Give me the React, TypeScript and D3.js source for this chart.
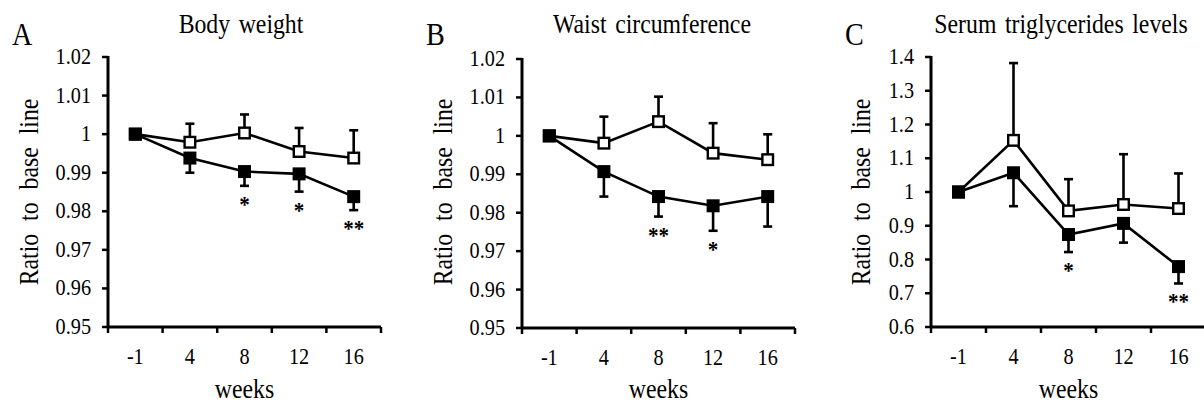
import React from "react";
import * as d3 from "d3";

// weeks from baseline
const weeks = ["-1", "4", "8", "12", "16"];

// A: body weight (ratio to base line)
const bodyWeightOpen = [1.0, 0.9979, 1.0003, 0.9955, 0.9938];
const bodyWeightOpenErr = [0, 0.0048, 0.0048, 0.0061, 0.0072];
const bodyWeightFilled = [1.0, 0.9938, 0.9903, 0.9897, 0.9838];
const bodyWeightFilledErr = [0, 0.0038, 0.0037, 0.0046, 0.0035];
const bodyWeightStars = ["", "", "*", "*", "**"];
const bodyWeightTicks = [0.95, 0.96, 0.97, 0.98, 0.99, 1, 1.01, 1.02];

// B: waist circumference
const waistOpen = [1.0, 0.9981, 1.0037, 0.9955, 0.9938];
const waistOpenErr = [0, 0.0069, 0.0065, 0.0078, 0.0066];
const waistFilled = [1.0, 0.9907, 0.9842, 0.9818, 0.9842];
const waistFilledErr = [0, 0.0065, 0.0052, 0.0065, 0.0078];
const waistStars = ["", "", "**", "*", ""];
const waistTicks = [0.95, 0.96, 0.97, 0.98, 0.99, 1, 1.01, 1.02];

// C: serum triglycerides
const tgOpen = [1.0, 1.153, 0.944, 0.963, 0.951];
const tgOpenErr = [0, 0.229, 0.094, 0.149, 0.104];
const tgFilled = [1.0, 1.057, 0.874, 0.907, 0.779];
const tgFilledErr = [0, 0.099, 0.052, 0.057, 0.05];
const tgStars = ["", "", "*", "", "**"];
const tgTicks = [0.6, 0.7, 0.8, 0.9, 1, 1.1, 1.2, 1.3, 1.4];

const FONT = "Liberation Serif";
const SQUEEZE = 0.88; // the original type is a bit condensed

function T(props: {
  x: number;
  y: number;
  size: number;
  anchor?: string;
  rotate?: number;
  wordSpacing?: number;
  bold?: boolean;
  children: React.ReactNode;
}) {
  const rot = props.rotate ? ` rotate(${props.rotate})` : "";
  return (
    <text
      transform={`translate(${props.x},${props.y})${rot} scale(${SQUEEZE},1)`}
      style={{
        fontFamily: FONT,
        fontSize: props.size,
        wordSpacing: props.wordSpacing || 0,
        fontWeight: props.bold ? "bold" : "normal",
      }}
      textAnchor={props.anchor || "start"}
      fill="#000"
    >
      {props.children}
    </text>
  );
}

type PanelProps = {
  letter: string;
  title: string;
  open: number[];
  openErr: number[];
  filled: number[];
  filledErr: number[];
  stars: string[];
  ticks: number[];
  frame: { x0: number; x1: number; y0: number; y1: number };
  letterX: number;
  labelX: number;
  titleX: number;
};

function Panel(props: PanelProps) {
  const { letter, title, open, openErr, filled, filledErr, stars, ticks, frame } = props;

  const x = d3.scaleBand<string>().domain(weeks).range([frame.x0, frame.x1]).padding(0);
  const y = d3
    .scaleLinear()
    .domain([ticks[0], ticks[ticks.length - 1]])
    .range([frame.y1, frame.y0]);
  const cx = (w: string) => (x(w) as number) + x.bandwidth() / 2;

  const line = d3
    .line<number>()
    .x((_, i) => cx(weeks[i]))
    .y((d) => y(d));

  const midX = (frame.x0 + frame.x1) / 2;
  const box = 13;
  const sw = 2.6;

  return (
    <g>
      <T x={props.letterX} y={45} size={32}>
        {letter}
      </T>
      <T x={props.titleX} y={33} size={27} anchor="middle" wordSpacing={3}>
        {title}
      </T>
      <T x={props.labelX} y={192} size={27} anchor="middle" rotate={-90} wordSpacing={8}>
        Ratio to base line
      </T>
      <T x={midX} y={398} size={27} anchor="middle">
        weeks
      </T>

      {/* y axis */}
      <line x1={frame.x0} x2={frame.x0} y1={frame.y0 - 1} y2={frame.y1} stroke="#000" strokeWidth={3} />
      {ticks.map((t) => (
        <g key={t}>
          <line x1={frame.x0 - 6} x2={frame.x0} y1={y(t)} y2={y(t)} stroke="#000" strokeWidth={2.5} />
          <T x={frame.x0 - 17} y={y(t) + 7} size={23} anchor="end">
            {String(t)}
          </T>
        </g>
      ))}

      {/* x axis */}
      <line x1={frame.x0} x2={frame.x1} y1={frame.y1} y2={frame.y1} stroke="#000" strokeWidth={3} />
      {[...weeks.map((w) => x(w) as number), frame.x1].map((p, i) => (
        <line key={i} x1={p} x2={p} y1={frame.y1} y2={frame.y1 + 6} stroke="#000" strokeWidth={2.5} />
      ))}
      {weeks.map((w) => (
        <T key={w} x={cx(w)} y={frame.y1 + 37} size={23} anchor="middle">
          {w}
        </T>
      ))}

      {/* error bars: open up, filled down */}
      {open.map((v, i) =>
        openErr[i] > 0 ? (
          <g key={"oe" + i} stroke="#000" strokeWidth={sw}>
            <line x1={cx(weeks[i])} x2={cx(weeks[i])} y1={y(v)} y2={y(v + openErr[i])} />
            <line x1={cx(weeks[i]) - 4.5} x2={cx(weeks[i]) + 4.5} y1={y(v + openErr[i])} y2={y(v + openErr[i])} />
          </g>
        ) : null
      )}
      {filled.map((v, i) =>
        filledErr[i] > 0 ? (
          <g key={"fe" + i} stroke="#000" strokeWidth={sw}>
            <line x1={cx(weeks[i])} x2={cx(weeks[i])} y1={y(v)} y2={y(v - filledErr[i])} />
            <line x1={cx(weeks[i]) - 4.5} x2={cx(weeks[i]) + 4.5} y1={y(v - filledErr[i])} y2={y(v - filledErr[i])} />
          </g>
        ) : null
      )}

      <path d={line(open) || ""} fill="none" stroke="#000" strokeWidth={sw} />
      <path d={line(filled) || ""} fill="none" stroke="#000" strokeWidth={sw} />

      {open.map((v, i) => (
        <rect
          key={"om" + i}
          x={cx(weeks[i]) - (box - 2.4) / 2}
          y={y(v) - (box - 2.4) / 2}
          width={box - 2.4}
          height={box - 2.4}
          fill="#fff"
          stroke="#000"
          strokeWidth={2.4}
        />
      ))}
      {filled.map((v, i) => (
        <rect key={"fm" + i} x={cx(weeks[i]) - box / 2} y={y(v) - box / 2} width={box} height={box} fill="#000" />
      ))}

      {stars.map((s, i) =>
        s ? (
          <T key={"s" + i} x={cx(weeks[i])} y={y(filled[i] - filledErr[i]) + 26} size={24} anchor="middle" bold>
            {s}
          </T>
        ) : null
      )}
    </g>
  );
}

export default function App() {
  return (
    <svg
      width={1204}
      height={403}
      style={{ position: "absolute", left: 0, top: 0, background: "#fff" }}
    >
      <Panel
        letter="A"
        title="Body weight"
        open={bodyWeightOpen}
        openErr={bodyWeightOpenErr}
        filled={bodyWeightFilled}
        filledErr={bodyWeightFilledErr}
        stars={bodyWeightStars}
        ticks={bodyWeightTicks}
        frame={{ x0: 108, x1: 381, y0: 57, y1: 327 }}
        letterX={12}
        labelX={38}
        titleX={241}
      />
      <Panel
        letter="B"
        title="Waist circumference"
        open={waistOpen}
        openErr={waistOpenErr}
        filled={waistFilled}
        filledErr={waistFilledErr}
        stars={waistStars}
        ticks={waistTicks}
        frame={{ x0: 522, x1: 795, y0: 59, y1: 328 }}
        letterX={426}
        labelX={452}
        titleX={652}
      />
      <Panel
        letter="C"
        title="Serum triglycerides levels"
        open={tgOpen}
        openErr={tgOpenErr}
        filled={tgFilled}
        filledErr={tgFilledErr}
        stars={tgStars}
        ticks={tgTicks}
        frame={{ x0: 931, x1: 1206, y0: 57, y1: 327 }}
        letterX={845}
        labelX={870}
        titleX={1061}
      />
    </svg>
  );
}
